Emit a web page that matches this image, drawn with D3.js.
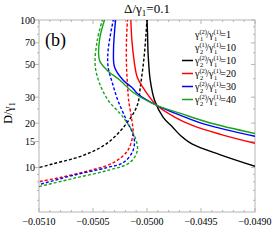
<!DOCTYPE html>
<html>
<head>
<meta charset="utf-8">
<script src="https://cdn.jsdelivr.net/npm/d3@7"></script>
<style>
body { margin: 0; background: #fff; }
</style>
</head>
<body>
<div id="chart"></div>
<script>
var width = 274, height = 247,
margin = { top: 20, right: 19, bottom: 35, left: 39 };

var xTicks = [-0.0510, -0.0505, -0.0500, -0.0495, -0.0490];
var yTicks = [10, 15, 20, 30, 50, 70, 100];
var yMinor = [6, 7, 8, 9, 25, 40, 60, 80, 90];

var ratios = [10, 20, 30, 40];
var colors = ["#000000", "#ff0000", "#0000ff", "#1aa31a"];

// solid branches, [x, D/gamma1]
var solidBlack = [[-0.05000,102],[-0.049995,80],[-0.04999,59.6],[-0.04997,39.1],[-0.04993,28.6],[-0.04985,21.9],[-0.04976,18.7],[-0.04969,16.5],[-0.04958,14.4],[-0.04932,12.2],[-0.04900,10.2]];
var solidRed = [[-0.05015,102],[-0.05014,73],[-0.05012,53.4],[-0.05009,40.9],[-0.05002,33.4],[-0.04991,26.4],[-0.04974,21.9],[-0.04958,19.3],[-0.04932,16.8],[-0.04900,14.6]];
var solidBlue = [[-0.05029,102],[-0.05031,62.5],[-0.05030,47.9],[-0.05022,39.1],[-0.05013,34.4],[-0.05009,31.8],[-0.04991,26.4],[-0.04969,22.6],[-0.04946,19.6],[-0.04900,16.3]];
var solidGreen = [[-0.05039,102],[-0.05044,73],[-0.05044,53.4],[-0.05037,45.7],[-0.05025,39.1],[-0.05013,32.4],[-0.04991,26.4],[-0.04969,23.3],[-0.04943,20.2],[-0.04900,17.0]];

// dashed branches
var dashBlack = [[-0.05000,102],[-0.05001,79],[-0.05003,53.4],[-0.05006,36.1],[-0.05009,26.4],[-0.05019,19.9],[-0.05037,14.6],[-0.05059,12.1],[-0.05087,10.6],[-0.05100,10.0]];
var dashRed = [[-0.05018,102],[-0.05019,73],[-0.05019,49.4],[-0.05018,36],[-0.05017,28.6],[-0.05014,20.9],[-0.05013,17],[-0.05018,13],[-0.05031,10.8],[-0.05053,9.55],[-0.05081,8.55],[-0.05100,8.03]];
var dashBlue = [[-0.05031,102],[-0.05036,62.5],[-0.05036,47.9],[-0.05032,37.3],[-0.05027,28.6],[-0.05019,20.9],[-0.05012,16.0],[-0.05013,13.0],[-0.05022,10.8],[-0.05037,10.0],[-0.05069,8.83],[-0.05100,7.66]];
var dashGreen = [[-0.05041,102],[-0.05046,73],[-0.05048,49.4],[-0.05044,37.3],[-0.05036,28.6],[-0.05022,21.9],[-0.05011,16.0],[-0.05009,13.0],[-0.05016,10.8],[-0.05037,9.55],[-0.05069,8.42],[-0.05100,7.43]];

var solids = [solidBlack, solidRed, solidBlue, solidGreen];
var dashes = [dashBlack, dashRed, dashBlue, dashGreen];

var x = d3.scaleLinear().domain([-0.0510, -0.0490]).range([margin.left, width - margin.right]);
var y = d3.scaleLog().domain([5, 100]).range([height - margin.bottom, margin.top]);

var svg = d3.select("#chart").append("svg")
    .attr("width", width)
    .attr("height", height)
    .attr("font-family", "'Liberation Serif', 'Times New Roman', Times, serif");

svg.append("defs").append("clipPath").attr("id", "clip")
    .append("rect")
    .attr("x", x.range()[0]).attr("y", y.range()[1])
    .attr("width", x.range()[1] - x.range()[0])
    .attr("height", y.range()[0] - y.range()[1]);

var frameColor = "#b4b4b4";
var x0 = x.range()[0], x1 = x.range()[1], yb = y.range()[0], yt = y.range()[1];

// frame
svg.append("rect")
    .attr("x", x0).attr("y", yt)
    .attr("width", x1 - x0).attr("height", yb - yt)
    .attr("fill", "none").attr("stroke", frameColor).attr("stroke-width", 1);

// x ticks, major + minor every 0.0001
var xMinor = d3.range(-0.0510, -0.04899, 0.0001);
xMinor.forEach(function (v) {
    var major = xTicks.some(function (t) { return Math.abs(t - v) < 1e-7; });
    var len = major ? 4 : 2;
    svg.append("line").attr("x1", x(v)).attr("x2", x(v)).attr("y1", yb).attr("y2", yb - len)
        .attr("stroke", frameColor);
    svg.append("line").attr("x1", x(v)).attr("x2", x(v)).attr("y1", yt).attr("y2", yt + len)
        .attr("stroke", frameColor);
});

yTicks.concat(yMinor).forEach(function (v) {
    var len = yTicks.indexOf(v) >= 0 ? 4 : 2;
    svg.append("line").attr("x1", x0).attr("x2", x0 - len).attr("y1", y(v)).attr("y2", y(v))
        .attr("stroke", frameColor);
    svg.append("line").attr("x1", x1).attr("x2", x1 - len).attr("y1", y(v)).attr("y2", y(v))
        .attr("stroke", frameColor);
});

svg.selectAll(".xLabel")
    .data(xTicks)
    .enter().append("text")
    .attr("x", function (d) { return x(d); })
    .attr("y", yb + 13)
    .style("text-anchor", "middle")
    .style("font-size", "10px")
    .text(function (d) { return "\u2212" + Math.abs(d).toFixed(4); });

svg.selectAll(".yLabel")
    .data(yTicks)
    .enter().append("text")
    .attr("x", x0 - 4)
    .attr("y", function (d) { return y(d) + 3.5; })
    .style("text-anchor", "end")
    .style("font-size", "10px")
    .text(function (d) { return d; });

// curves
var line = d3.line()
    .x(function (d) { return x(d[0]); })
    .y(function (d) { return y(d[1]); })
    .curve(d3.curveCatmullRom.alpha(0.5));

var plot = svg.append("g").attr("clip-path", "url(#clip)");

dashes.forEach(function (pts, i) {
    plot.append("path").attr("d", line(pts))
        .attr("fill", "none").attr("stroke", colors[i]).attr("stroke-width", 1.4)
        .attr("stroke-dasharray", "3,2");
});
solids.forEach(function (pts, i) {
    plot.append("path").attr("d", line(pts))
        .attr("fill", "none").attr("stroke", colors[i]).attr("stroke-width", 1.4);
});

// title
var title = svg.append("text")
    .attr("x", (x0 + x1) / 2).attr("y", 13)
    .style("text-anchor", "middle").style("font-size", "13px");
title.append("tspan").text("\u0394/\u03b3");
title.append("tspan").attr("font-size", "9px").attr("dy", 3).text("1");
title.append("tspan").attr("dy", -3).text("=0.1");

svg.append("text")
    .attr("x", 45).attr("y", 46)
    .style("font-size", "18px")
    .text("(b)");

// y axis label
var yl = svg.append("text")
    .attr("transform", "translate(12," + 113 + ") rotate(-90)")
    .style("text-anchor", "middle").style("font-size", "12px");
yl.append("tspan").text("D/\u03b3");
yl.append("tspan").attr("font-size", "8px").attr("dy", 3).text("1");

// legend
function ratioText(g, a, b, c, d, val) {
    var t = g.append("text").style("font-size", "10px");
    t.append("tspan").text("\u03b3");
    t.append("tspan").attr("font-size", "6.5px").attr("dy", -4).text(b);
    t.append("tspan").attr("font-size", "6.5px").attr("dx", -7).attr("dy", 6.5).text(a);
    t.append("tspan").attr("dy", -2.5).attr("dx", 3).text("/\u03b3");
    t.append("tspan").attr("font-size", "6.5px").attr("dy", -4).text(d);
    t.append("tspan").attr("font-size", "6.5px").attr("dx", -7).attr("dy", 6.5).text(c);
    t.append("tspan").attr("dy", -2.5).attr("dx", 3).text("=" + val);
    return t;
}

var legX = 195, legY0 = 38, legStep = 13;
ratioText(svg.append("g").attr("transform", "translate(" + legX + "," + legY0 + ")"), "1", "(2)", "1", "(1)", 1);
ratioText(svg.append("g").attr("transform", "translate(" + legX + "," + (legY0 + legStep) + ")"), "2", "(1)", "1", "(1)", 10);

ratios.forEach(function (r, i) {
    var g = svg.append("g").attr("transform", "translate(" + legX + "," + (legY0 + legStep * (i + 2)) + ")");
    g.append("line").attr("x1", -13).attr("x2", -2).attr("y1", -3.5).attr("y2", -3.5)
        .attr("stroke", colors[i]).attr("stroke-width", 1.5);
    ratioText(g, "2", "(2)", "1", "(1)", r);
});
</script>
</body>
</html>
